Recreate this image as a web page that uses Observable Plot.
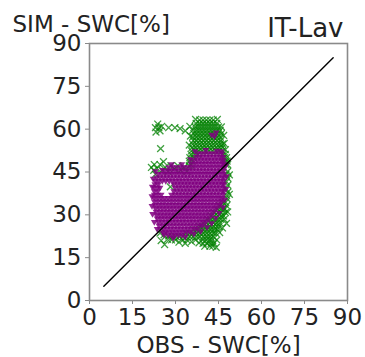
<!DOCTYPE html>
<html><head><meta charset="utf-8">
<script src="https://cdn.jsdelivr.net/npm/d3@7"></script>
<script src="https://cdn.jsdelivr.net/npm/@observablehq/plot@0.6"></script>
<style>body{margin:0;background:#fff} svg{font-family:"DejaVu Sans",sans-serif}</style>
</head><body><div id="chart"></div><script>
const title = "IT-Lav";
const xLabel = "OBS - SWC[%]";
const yLabel = "SIM - SWC[%]";
const tickValues = [0, 15, 30, 45, 60, 75, 90];
const oneToOneObs = [5, 85];
const oneToOneSim = [5, 85];

// green series: rows of [SIM value, OBS values...]
const greenRows = [
  [63.4, 37, 44.6],
  [63.2, 38.4, 39.6, 40.8, 42, 43.2],
  [62, 37.2, 38.4, 39.6, 40.8, 42, 43.2, 44.4],
  [61.8, 23.8],
  [61, 25.2, 35],
  [60.8, 36.8, 37.8, 39, 40.2, 41.4, 42.6, 43.8, 45, 46],
  [60.5, 23, 24.2, 27.6, 29.8],
  [60.2, 31.6],
  [59.6, 36, 37.2, 38.4, 39.6, 40.8, 42, 43.2, 44.4, 45.6],
  [59.4, 33.4, 24.6],
  [59, 23.2],
  [58.4, 36.4, 37.6, 38.8, 40, 41.2, 42.4, 43.6, 44.8, 46],
  [57.8, 46.8],
  [57.6, 35.2],
  [57.2, 36, 37.2, 38.4, 39.6, 40.8, 42, 43.2, 44.4, 45.6],
  [56, 36.2, 37.4, 38.6, 39.8, 41, 42.2, 43.4, 44.6, 45.8],
  [55, 47],
  [54.8, 36, 37.2, 38.4, 39.6, 40.8, 42, 43.2, 44.4, 45.6, 46.4],
  [54.4, 34.8],
  [53.6, 35.8, 37, 38.2, 39.4, 40.6, 41.8, 43, 44.2, 45.4, 46.4],
  [53.2, 24.8],
  [52.8, 47.4],
  [52.4, 35.6, 36.8, 38, 39.2, 40.4, 41.6, 42.8, 44, 45.2, 46.4],
  [51.2, 35.4, 36.6, 37.8, 46.6, 47.4],
  [50, 35, 36.2, 47, 47.8],
  [48.8, 34.8, 35.8, 47.4, 48],
  [48.6, 25.8],
  [47.6, 22.6, 24.6, 35.4, 47.6, 48.2],
  [47.2, 28.4, 30.8, 34.8],
  [46.6, 21.6, 26.4, 33],
  [46.2, 23.6, 29.6],
  [45.6, 22.4, 25.4, 31.8],
  [45.2, 27.4, 34, 48.2],
  [44.2, 23, 47.6],
  [44, 48.8],
  [42.8, 48.3],
  [41.6, 47.8],
  [40.4, 48.2],
  [39.8, 28.2],
  [39.2, 47.6],
  [38, 48.3],
  [37.2, 48.8],
  [36.8, 47.8],
  [35.6, 48],
  [34.4, 46.6, 47.5],
  [33.2, 45.4, 46.4, 47.8],
  [32, 44.6, 45.8, 46.6, 47.2],
  [31, 48.2],
  [30.8, 43.6, 44.8, 46, 47.4],
  [29.6, 42.4, 43.6, 44.8, 46, 46.8],
  [28.4, 41.2, 42.4, 43.6, 44.8, 45.8, 47],
  [27.2, 39.6, 40.8, 42, 43.2, 44.4, 45.4],
  [27, 47.8],
  [26, 38.4, 39.6, 40.8, 42, 43.2, 44.4, 45.2],
  [25.4, 46.4],
  [24.8, 36.4, 37.6, 38.8, 40, 41.2, 42.4, 43.6, 44.6],
  [23.8, 45.4],
  [23.6, 24.6, 33.6, 34.8, 36, 37.2, 38.4, 39.6, 40.8, 42, 43.2, 44],
  [23, 26],
  [22.6, 27.6],
  [22.4, 29, 30.2, 31.4, 32.6, 33.8, 35, 36.2, 37.4, 38.6, 39.8, 41, 42.2, 43.2],
  [21.4, 27.2],
  [21.2, 28.6, 30, 32.6, 34, 37, 39.4, 40.6, 41.8, 42.8, 44.4],
  [21, 25],
  [20.6, 35.6],
  [20.4, 31.2],
  [20.2, 38.2],
  [20, 33.4, 39.6, 41, 42.4, 43.4],
  [19.6, 26.2],
  [19, 40.2, 42, 43],
  [18.6, 44.2]
];

// purple series: rows of [SIM value, OBS values...]
const purpleRows = [
  [58.8, 44.2],
  [58, 42.6],
  [57.4, 43.6],
  [52.6, 40.6],
  [52.4, 44.4],
  [52.2, 36.8, 46],
  [51.4, 37.8, 39, 40.2, 41.4, 42.6, 43.8, 45, 46.2],
  [50.2, 37.2, 38.4, 39.6, 40.8, 42, 43.2, 44.4, 45.6, 46.6],
  [49.4, 35.2],
  [49, 36.4, 37.6, 38.8, 40, 41.2, 42.4, 43.6, 44.8, 46, 46.8],
  [47.8, 35.4, 36.6, 37.8, 39, 40.2, 41.4, 42.6, 43.8, 45, 46.2, 46.9],
  [47.6, 28.6, 32.2],
  [47.2, 47.6],
  [46.6, 27.6, 29, 30.4, 31.8, 33, 34.2, 35.4, 36.6, 37.8, 39, 40.2, 41.4, 42.6, 43.8, 45, 46.2, 46.9],
  [45.6, 25.4],
  [45.4, 26.4, 27.6, 28.8, 30, 31.2, 32.4, 33.6, 34.8, 36, 37.2, 38.4, 39.6, 40.8, 42, 43.2, 44.4, 45.6, 46.8],
  [45.2, 23],
  [44.2, 24, 25.2, 26.4, 27.6, 28.8, 30, 31.2, 32.4, 33.6, 34.8, 36, 37.2, 38.4, 39.6, 40.8, 42, 43.2, 44.4, 45.6, 46.8],
  [43.4, 47.8],
  [43, 23.4, 24.6, 25.8, 27, 28.2, 29.4, 30.6, 31.8, 33, 34.2, 35.4, 36.6, 37.8, 39, 40.2, 41.4, 42.6, 43.8, 45, 46.2, 46.9],
  [42.6, 22.2],
  [41.8, 23, 24.2, 25.4, 26.6, 27.8, 29, 30.2, 31.4, 32.6, 33.8, 35, 36.2, 37.4, 38.6, 39.8, 41, 42.2, 43.4, 44.6, 45.8, 46.8],
  [40.6, 22.8, 24, 29.4, 30.6, 31.8, 33, 34.2, 35.4, 36.6, 37.8, 39, 40.2, 41.4, 42.6, 43.8, 45, 46.2, 46.9],
  [39.8, 21.9],
  [39.4, 22.6, 23.8, 24.6, 29.8, 31, 32.2, 33.4, 34.6, 35.8, 37, 38.2, 39.4, 40.6, 41.8, 43, 44.2, 45.4, 46.6],
  [39, 47.6],
  [38.2, 22.6, 23.8, 29.4, 30.6, 31.8, 33, 34.2, 35.4, 36.6, 37.8, 39, 40.2, 41.4, 42.6, 43.8, 45, 46.2, 46.8],
  [37, 22.6, 23.8, 25, 28.6, 29.8, 31, 32.2, 33.4, 34.6, 35.8, 37, 38.2, 39.4, 40.6, 41.8, 43, 44.2, 45.4, 46.6],
  [36.4, 21.8],
  [35.8, 22.6, 23.8, 25, 26.2, 27.4, 28.6, 29.8, 31, 32.2, 33.4, 34.6, 35.8, 37, 38.2, 39.4, 40.6, 41.8, 43, 44.2, 45.4, 46.4],
  [35.2, 47.2],
  [34.6, 22.6, 23.8, 25, 26.2, 27.4, 28.6, 29.8, 31, 32.2, 33.4, 34.6, 35.8, 37, 38.2, 39.4, 40.6, 41.8, 43, 44.2, 45.4, 46.2],
  [33.4, 22.8, 24, 25.2, 26.4, 27.6, 28.8, 30, 31.2, 32.4, 33.6, 34.8, 36, 37.2, 38.4, 39.6, 40.8, 42, 43.2, 44.4, 45.4],
  [33, 21.8],
  [32.6, 46.6],
  [32.2, 23, 24.2, 25.4, 26.6, 27.8, 29, 30.2, 31.4, 32.6, 33.8, 35, 36.2, 37.4, 38.6, 39.8, 41, 42.2, 43.4, 44.4],
  [31, 23.2, 24.4, 25.6, 26.8, 28, 29.2, 30.4, 31.6, 32.8, 34, 35.2, 36.4, 37.6, 38.8, 40, 41.2, 42.4, 43.4],
  [30.6, 45.2],
  [30.2, 22],
  [29.8, 23.4, 24.6, 25.8, 27, 28.2, 29.4, 30.6, 31.8, 33, 34.2, 35.4, 36.6, 37.8, 39, 40.2, 41.4, 42.6],
  [28.8, 44],
  [28.6, 23.6, 24.8, 26, 27.2, 28.4, 29.6, 30.8, 32, 33.2, 34.4, 35.6, 36.8, 38, 39.2, 40.4, 41.6],
  [27.4, 24, 25.2, 26.4, 27.6, 28.8, 30, 31.2, 32.4, 33.6, 34.8, 36, 37.2, 38.4, 39.6, 40.6, 22.6],
  [27, 42.6],
  [26.2, 24.2, 25.4, 26.6, 27.8, 29, 30.2, 31.4, 32.6, 33.8, 35, 36.2, 37.4, 38.6, 39.4],
  [25.6, 41],
  [25, 24.6, 25.8, 27, 28.2, 29.4, 30.6, 31.8, 33, 34.2, 35.4, 36.6, 37.6, 23.6],
  [24.2, 38.8],
  [23.8, 25.6, 26.8, 28, 29.2, 30.4, 31.6, 32.8, 34, 35.2],
  [23.2, 36.4],
  [23, 26],
  [22.8, 27.4, 28.6, 29.8, 31, 32.2],
  [22.2, 33.4],
  [21.8, 29.2]
];

const toPoints = rows => rows.flatMap(([sim, ...obs]) => obs.map(o => ({obs: o, sim})));
const green = toPoints(greenRows);
const purple = toPoints(purpleRows);
const oneToOne = oneToOneObs.map((o, i) => ({obs: o, sim: oneToOneSim[i]}));

const triDown = {
  draw(context, size) {
    const r = Math.sqrt(size / Math.PI);
    context.moveTo(0, r * 1.05);
    context.lineTo(-r * 1.0, -r * 0.65);
    context.lineTo(r * 1.0, -r * 0.65);
    context.closePath();
  }
};

const chart = Plot.plot({
  width: 365,
  height: 357,
  marginLeft: 89,
  marginRight: 18,
  marginTop: 43,
  marginBottom: 57,
  style: {fontFamily: "DejaVu Sans, sans-serif", fontSize: "22px", color: "#222", background: "white"},
  x: {domain: [0, 90]},
  y: {domain: [0, 90]},
  marks: [
    Plot.dot(green, {x: "obs", y: "sim", symbol: "times", r: 3.2, stroke: "green", strokeWidth: 1.3, strokeOpacity: 0.75}),
    Plot.dot(purple, {x: "obs", y: "sim", symbol: triDown, r: 3.4, fill: "purple", stroke: "none", fillOpacity: 0.85}),
    Plot.line(oneToOne, {x: "obs", y: "sim", stroke: "black", strokeWidth: 1.4}),
    Plot.frame({stroke: "#8a8a8a", strokeWidth: 1.6}),
    Plot.axisX(tickValues, {tickSize: 4, tickPadding: 4, label: null, stroke: "#8a8a8a", fontSize: 23}),
    Plot.axisY(tickValues, {tickSize: 4, tickPadding: 4, label: null, stroke: "#8a8a8a", fontSize: 23}),
    Plot.text([yLabel], {text: d => d, frameAnchor: "top-left", textAnchor: "start", lineAnchor: "bottom", dx: -77, dy: -12, fontSize: 23, fill: "#222"}),
    Plot.text([title], {text: d => d, frameAnchor: "top-right", textAnchor: "end", lineAnchor: "bottom", dx: -4, dy: -7, fontSize: 26, fill: "#222"}),
    Plot.text([xLabel], {text: d => d, frameAnchor: "bottom", lineAnchor: "bottom", dy: 52, fontSize: 23, fill: "#222"})
  ]
});
document.getElementById("chart").appendChild(chart);
</script></body></html>
